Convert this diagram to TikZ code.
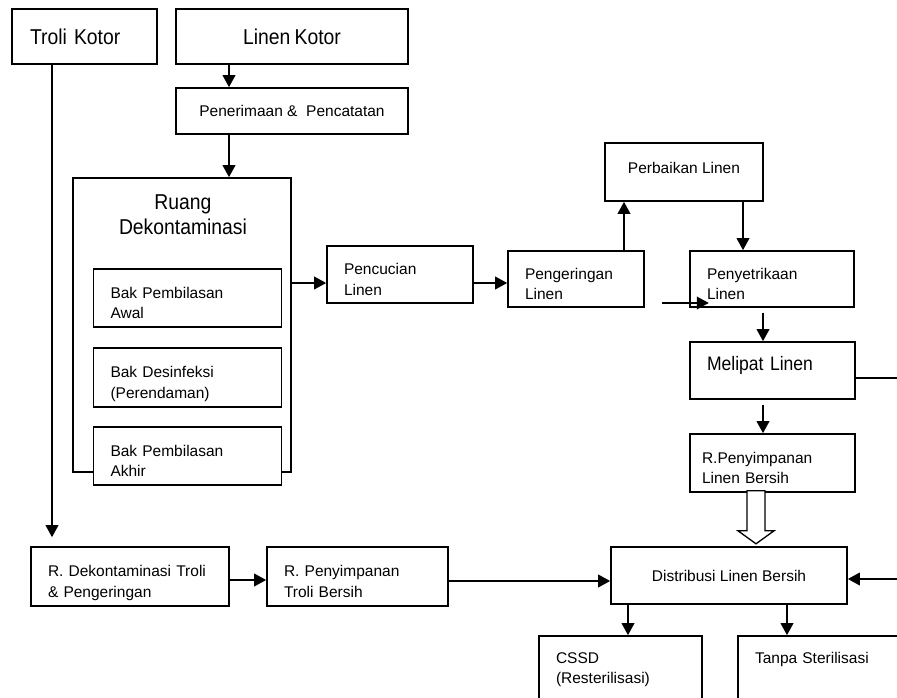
\documentclass[tikz,border=0pt]{standalone}
\usepackage{fontspec}
\setmainfont{Liberation Sans}
\newfontfamily\sempit{Liberation Sans}[FakeStretch=0.9, WordSpace=0.8]
\usetikzlibrary{arrows.meta}

\begin{document}
\begin{tikzpicture}[x=1pt, y=-1pt,
    kotak/.style={draw, line width=1.6pt, fill=white, font=\fontsize{15.5}{20.5}\selectfont},
    kiri/.style={kotak, align=left, inner xsep=17pt, inner ysep=0pt, text height=20pt, text depth=20pt},
    judul/.style={font=\sempit\fontsize{21.5}{24.5}\selectfont},
    panah/.style={-{Triangle[length=12pt, width=12.5pt]}, line width=2pt}]

    \fill[white] (0,0) rectangle (897,698);
    \useasboundingbox (0,0) rectangle (897,698);

    % Troli Kotor and Linen Kotor
    \node[kotak, judul, align=left, inner xsep=18pt, text width=109pt, minimum height=55pt] (trolikotor) at (84.5,36.5) {Troli Kotor};
    \node[kotak, judul, minimum width=232pt, minimum height=55pt] (linenkotor) at (292,36.5) {Linen Kotor};

    % Penerimaan
    \node[kotak, minimum width=232pt, minimum height=46pt] (penerimaan) at (292,111) {Penerimaan \&~ Pencatatan};

    % Ruang Dekontaminasi
    \node[kotak, minimum width=218pt, minimum height=294pt] (ruang) at (182,325) {};
    \node[judul, align=center, anchor=north, inner sep=0pt] (ruangjudul) at (183,195) {Ruang\\Dekontaminasi};
    \node[kiri, text width=154pt, minimum height=58pt] (bak1) at (187.5,298) {Bak Pembilasan\\Awal};
    \node[kiri, text width=154pt, minimum height=59pt] (bak2) at (187.5,377.5) {Bak Desinfeksi\\(Perendaman)};
    \node[kiri, text width=154pt, minimum height=58pt] (bak3) at (187.5,456) {Bak Pembilasan\\Akhir};

    % washing line
    \node[kiri, text width=112pt, minimum height=57pt] (pencucian) at (400,274.5) {Pencucian\\Linen};
    \node[kiri, text width=102pt, minimum height=56pt] (pengeringan) at (576,279) {Pengeringan\\Linen};
    \node[kotak, minimum width=158pt, minimum height=58pt, text height=11pt, text depth=9pt] (perbaikan) at (684,172) {Perbaikan Linen};
    \node[kiri, text width=130pt, minimum height=56pt] (penyetrikaan) at (772,279) {Penyetrikaan\\Linen};
    \node[kiri, font=\sempit\fontsize{19.5}{22}\selectfont, text width=131pt, minimum height=57pt] (melipat) at (772.5,370.5) {Melipat Linen};
    \node[kiri, inner xsep=12pt, text width=141pt, minimum height=58pt] (lemari) at (772.5,463) {R.Penyimpanan\\Linen Bersih};

    % bottom row
    \node[kiri, text width=164pt, minimum height=59pt] (dekontroli) at (130,576.5) {R. Dekontaminasi Troli\\\& Pengeringan};
    \node[kiri, text width=147pt, minimum height=59pt] (troliber) at (357.5,576.5) {R. Penyimpanan\\Troli Bersih};
    \node[kotak, minimum width=236pt, minimum height=57pt] (distribusi) at (729,575.5) {Distribusi Linen Bersih};
    \node[kiri, text width=129pt, minimum height=100pt, text height=14pt, text depth=60pt] (cssd) at (620.5,686) {CSSD\\(Resterilisasi)};
    \node[kiri, text width=166pt, minimum height=100pt, text height=14pt, text depth=60pt] (tanpa) at (838,686) {Tanpa Sterilisasi};

    % Linen Kotor -> Penerimaan -> Ruang
    \draw[panah] ([xshift=-63pt]linenkotor.south) -- ([xshift=-63pt]penerimaan.north);
    \coordinate (p1) at ([xshift=-63pt]penerimaan.south);
    \draw[panah] (p1) -- (p1 |- ruang.north);

    % Troli Kotor -> R. Dekontaminasi Troli
    \coordinate (t1) at ([xshift=-32.5pt]trolikotor.south);
    \draw[panah, shorten >=9pt] (t1) -- (t1 |- dekontroli.north);

    % Ruang -> Pencucian -> Pengeringan
    \coordinate (c1) at ([yshift=-8.5pt]pencucian.west);
    \draw[panah] (c1 -| ruang.east) -- (c1);
    \coordinate (c2) at ([yshift=-8.5pt]pencucian.east);
    \draw[panah] (c2) -- (c2 -| pengeringan.west);

    % Pengeringan -> Perbaikan -> Penyetrikaan
    \coordinate (c3) at ([xshift=48pt]pengeringan.north);
    \draw[panah] (c3) -- (c3 |- perbaikan.south);
    \coordinate (c4) at ([xshift=59pt]perbaikan.south);
    \draw[panah] (c4) -- (c4 |- penyetrikaan.north);

    % Pengeringan -> Penyetrikaan
    \coordinate (c5) at ([xshift=17pt, yshift=-24pt]pengeringan.east);
    \draw[panah] (c5) -- ++(47,0);

    % Penyetrikaan -> Melipat -> R.Penyimpanan
    \coordinate (c6) at ([xshift=-9pt]penyetrikaan.south);
    \draw[panah, shorten <=5pt] (c6) -- (c6 |- melipat.north);
    \coordinate (c7) at ([xshift=-9.5pt]melipat.south);
    \draw[panah, shorten <=5pt] (c7) -- (c7 |- lemari.north);

    % R.Penyimpanan -> Distribusi (hollow arrow)
    \coordinate (c8) at ([xshift=-16.5pt]lemari.south);
    \draw[line width=1.3pt, fill=white] (c8) ++(-9,-2) -- ++(0,40) -- ++(-9,0) -- ++(18,13) -- ++(18,-13) -- ++(-9,0) -- ++(0,-40) -- cycle;

    % Melipat -> Distribusi
    \draw[panah] ([yshift=-7.5pt]melipat.east) -- ++(60,0) |- ([yshift=-3.5pt]distribusi.east);

    % troli line
    \coordinate (c9) at ([yshift=-3.5pt]dekontroli.east);
    \draw[panah] (c9) -- (c9 -| troliber.west);
    \coordinate (c10) at ([yshift=-4.5pt]troliber.east);
    \draw[panah] (c10) -- (c10 -| distribusi.west);

    % Distribusi -> CSSD, Tanpa Sterilisasi
    \coordinate (c11) at ([xshift=-101pt]distribusi.south);
    \draw[panah] (c11) -- (c11 |- cssd.north);
    \coordinate (c12) at ([xshift=58pt]distribusi.south);
    \draw[panah] (c12) -- (c12 |- tanpa.north);

\end{tikzpicture}
\end{document}
